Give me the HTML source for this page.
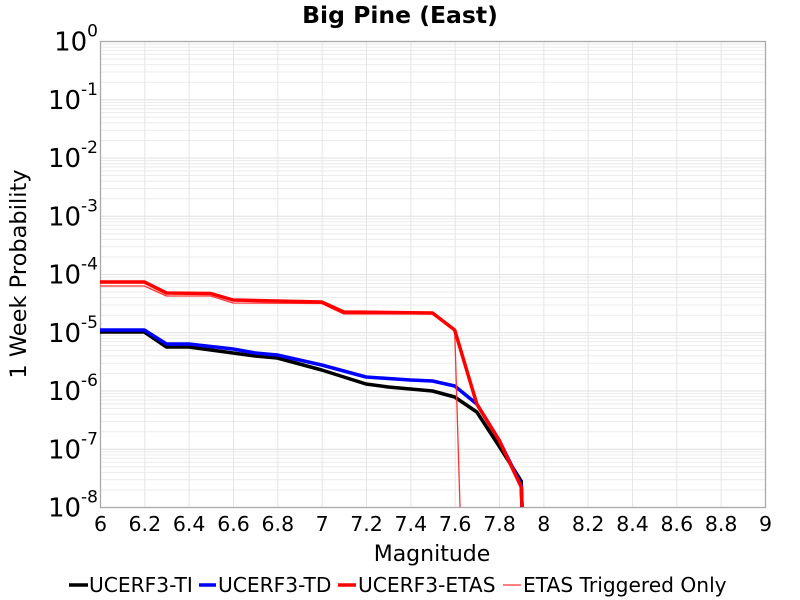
<!DOCTYPE html>
<html><head><meta charset="utf-8"><style>
body{margin:0;background:#fff}
svg{display:block;font-family:"DejaVu Sans","Liberation Sans",sans-serif}
</style></head><body>
<svg id="s" width="800" height="600" xmlns="http://www.w3.org/2000/svg">
<rect width="800" height="600" fill="#fff"/>
<g id="grid"></g>
<rect x="100.5" y="41.5" width="665" height="466" fill="none" stroke="#aaa" stroke-width="1.3"/>
<text x="400" y="23" text-anchor="middle" font-weight="bold" font-size="23.5">Big Pine (East)</text>
<g id="yl" font-size="26" text-anchor="end"></g>
<g id="xl" font-size="20.5" text-anchor="middle"></g>
<text x="432" y="561" text-anchor="middle" font-size="22">Magnitude</text>
<text transform="translate(26,274) rotate(-90)" text-anchor="middle" font-size="22.5">1 Week Probability</text>
<g fill="none" stroke-linejoin="round">
<polyline stroke="#000" stroke-width="3.5" points="100,332 144.3,332 166.5,347 188.7,347 233,353 255.2,356 277.3,358 321.7,370 343.8,377 366,384 388.2,387 432.5,391 454.7,397 476.8,412 499,446 521.2,481 522,507"/>
<polyline stroke="#00f" stroke-width="3.5" points="100,330 144.3,330 166.5,344 188.7,344 233,349 255.2,353 277.3,355 321.7,365 343.8,371 366,377 410.3,380 432.5,381 454.7,386 476.8,404 499,440 521.2,485 522,507"/>
<polyline stroke="#f33" stroke-width="1.3" points="100,286 144.3,286 166.5,296 210.8,296 233,303 321.7,303.5 343.8,314 432.5,314 454.7,330 460,507"/>
<polyline stroke="#f00" stroke-width="3.5" points="100,282 144.3,282 166.5,293 210.8,293.5 233,300 321.7,302 343.8,312 432.5,313 454.7,330 476.8,404 499,440 521.2,487 522,507"/>
</g>
<g font-size="20.2">
<line x1="69" y1="585" x2="88" y2="585" stroke="#000" stroke-width="3.5"/><text x="89" y="592">UCERF3-TI</text>
<line x1="199" y1="585" x2="216" y2="585" stroke="#00f" stroke-width="3.5"/><text x="218" y="592">UCERF3-TD</text>
<line x1="338" y1="585" x2="356" y2="585" stroke="#f00" stroke-width="3.5"/><text x="358" y="592">UCERF3-ETAS</text>
<line x1="503" y1="585" x2="521" y2="585" stroke="#f33" stroke-width="1.3"/><text x="523" y="592">ETAS Triggered Only</text>
</g>
</svg>
<script>
(function(){
var NS="http://www.w3.org/2000/svg";
function el(p,t,a,txt){var e=document.createElementNS(NS,t);for(var k in a)e.setAttribute(k,a[k]);if(txt!=null)e.textContent=txt;p.appendChild(e);return e;}
var g=document.getElementById('grid'),yl=document.getElementById('yl'),xl=document.getElementById('xl');
var T=41.5,dec=58.25;
for(var d=0;d<8;d++){for(var m=2;m<=9;m++){var y=T+(d+1-Math.log10(m))*dec;el(g,'line',{x1:100,x2:765,y1:y,y2:y,stroke:'#ebebeb','stroke-width':1});}}
for(var d=1;d<8;d++){var y=T+d*dec;el(g,'line',{x1:100,x2:765,y1:y,y2:y,stroke:'#e0e0e0','stroke-width':1});}
for(var i=1;i<15;i++){var x=100.5+i*665/15;el(g,'line',{x1:x,x2:x,y1:41,y2:507,stroke:'#e6e6e6','stroke-width':1});}
for(var d=0;d<=8;d++){var y=T+d*dec;var t=el(yl,'text',{x:98,y:y+9});
el(t,'tspan',{},'10');el(t,'tspan',{dy:-14,'font-size':17},d==0?'0':'-'+d);}
var labs=['6','6.2','6.4','6.6','6.8','7','7.2','7.4','7.6','7.8','8','8.2','8.4','8.6','8.8','9'];
for(var i=0;i<16;i++){el(xl,'text',{x:100.5+i*665/15,y:531},labs[i]);}
})();
</script>
</body></html>
